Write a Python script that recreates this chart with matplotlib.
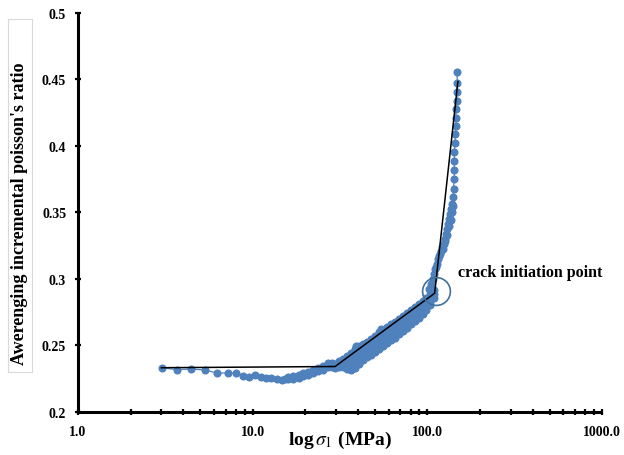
import matplotlib
matplotlib.use("Agg")
import matplotlib.pyplot as plt
from matplotlib.patches import Rectangle
from matplotlib.ticker import FixedLocator, NullFormatter

# --- data (sigma_1 in MPa, averaged incremental poisson's ratio) ---
early_x = [3.01, 3.69, 4.44, 5.31, 6.24, 7.18, 7.97, 8.85, 9.58, 10.36, 11.15, 11.9, 12.8, 13.7, 14.7, 15.3]
early_y = [0.2333, 0.2318, 0.2323, 0.2316, 0.2293, 0.2293, 0.2291, 0.2271, 0.2263, 0.2280, 0.2266, 0.2258,
           0.2253, 0.2248, 0.2243, 0.2248]

trans_x = [16.0, 16.0, 17.1, 17.1, 18.3, 18.3, 19.5, 19.5, 20.8, 20.8, 22.2, 22.2, 23.7, 23.7, 25.3, 25.3,
           27.0, 27.0, 28.3, 28.3]
trans_y = [0.2262, 0.2245, 0.2250, 0.2268, 0.2278, 0.2258, 0.2268, 0.2290, 0.2302, 0.2280, 0.2292, 0.2315,
           0.2328, 0.2305, 0.2318, 0.2345, 0.2370, 0.2335, 0.2340, 0.2372]

band_x = [29.6, 29.6, 29.6,
          31.2, 31.2, 31.2,
          32.9, 32.9, 32.9,
          34.7, 34.7, 34.7, 34.7,
          36.5, 36.5, 36.5, 36.5,
          38.5, 38.5, 38.5, 38.5, 39.0,
          40.5, 40.5, 40.5, 40.5,
          42.7, 42.7, 42.7, 42.7,
          45.0, 45.0, 45.0, 45.0,
          47.5, 47.5, 47.5, 47.5,
          50.0, 50.0, 50.0, 50.0,
          52.7, 52.7, 52.7, 52.7, 54.1,
          55.5, 55.5, 55.5, 55.5,
          58.5, 58.5, 58.5, 58.5,
          61.6, 61.6, 61.6, 61.6,
          64.9, 64.9, 64.9, 64.9,
          68.4, 68.4, 68.4, 68.4,
          72.1, 72.1, 72.1, 72.1,
          76.0, 76.0, 76.0, 76.0,
          80.1, 80.1, 80.1, 80.1,
          84.4, 84.4, 84.4, 84.4,
          88.9, 88.9, 88.9, 88.9,
          93.7, 93.7, 93.7, 93.7,
          98.7, 98.7, 98.7, 98.7,
          104.0, 104.0, 104.0, 104.0,
          109.6, 109.6, 109.6]
band_y = [0.2360, 0.2345, 0.2330,
          0.2335, 0.2355, 0.2380,
          0.2395, 0.2365, 0.2335,
          0.2320, 0.2345, 0.2380, 0.2420,
          0.2440, 0.2400, 0.2355, 0.2315,
          0.2330, 0.2380, 0.2425, 0.2470, 0.2499,
          0.2495, 0.2450, 0.2405, 0.2360,
          0.2390, 0.2430, 0.2470, 0.2510,
          0.2525, 0.2490, 0.2450, 0.2410,
          0.2430, 0.2470, 0.2510, 0.2550,
          0.2570, 0.2530, 0.2490, 0.2450,
          0.2470, 0.2510, 0.2555, 0.2600, 0.2624,
          0.2620, 0.2580, 0.2535, 0.2495,
          0.2520, 0.2560, 0.2600, 0.2640,
          0.2660, 0.2620, 0.2580, 0.2540,
          0.2560, 0.2600, 0.2640, 0.2680,
          0.2700, 0.2660, 0.2620, 0.2585,
          0.2610, 0.2640, 0.2680, 0.2720,
          0.2745, 0.2705, 0.2665, 0.2635,
          0.2660, 0.2690, 0.2725, 0.2765,
          0.2790, 0.2750, 0.2715, 0.2685,
          0.2710, 0.2740, 0.2775, 0.2810,
          0.2835, 0.2800, 0.2765, 0.2740,
          0.2770, 0.2795, 0.2830, 0.2860,
          0.2885, 0.2860, 0.2830, 0.2805,
          0.2860, 0.2890, 0.2920]

steep_x = [102.7, 105.4, 108.2, 109.6, 111.0, 112.5, 113.9, 115.4, 117.0, 118.5, 120.1, 122.0, 121.7,
           124.9, 126.0, 126.5, 128.2, 130.0, 129.9, 131.6, 133.0, 133.3, 135.1, 136.0, 136.9, 138.0,
           138.7, 140.0, 140.5, 141.0, 142.3, 142.3, 142.8, 142.3, 144.2, 144.2, 146.1, 145.0,
           146.1, 148.0, 146.8, 148.0, 148.0]
steep_y = [0.2925, 0.2963, 0.3000, 0.3038, 0.3075, 0.3090, 0.3113, 0.3150, 0.3170, 0.3188, 0.3211, 0.3225,
           0.3241, 0.3263, 0.3285, 0.3301, 0.3338, 0.3330, 0.3376, 0.3414, 0.3395, 0.3451, 0.3489, 0.3440,
           0.3526, 0.3500, 0.3564, 0.3550, 0.3617, 0.3680, 0.3752, 0.3820, 0.3890, 0.3955,
           0.4025, 0.4090, 0.4150, 0.4210, 0.4275, 0.4340, 0.4405, 0.4470, 0.4556]

# piecewise trend line drawn over the data
trend_x = [3.0, 29.6, 110.0, 149.4]
trend_y = [0.2333, 0.2342, 0.2893, 0.4485]

crack_x = 111.5
crack_y = 0.291

x_ticks = [1, 10, 100, 1000]
x_tick_labels = ["1.0", "10.0", "100.0", "1000.0"]
y_ticks = [0.2, 0.25, 0.3, 0.35, 0.4, 0.45, 0.5]
y_tick_labels = ["0.2", "0.25", "0.3", "0.35", "0.4", "0.45", "0.5"]

plt.rcParams["font.family"] = ["Liberation Serif", "DejaVu Serif"]
plt.rcParams["mathtext.fontset"] = "stix"

BLUE = "#4F81BD"

fig = plt.figure(figsize=(6.24, 4.56), dpi=100)
ax = fig.add_axes([0.125, 0.0943, 0.840, 0.8750])

all_x = early_x + trans_x + band_x + steep_x
all_y = early_y + trans_y + band_y + steep_y
ax.plot(all_x, all_y, "-o", color=BLUE, lw=0.9, ms=4.8, mec=BLUE, mfc=BLUE, zorder=2)

ax.plot(trend_x, trend_y, color="black", lw=1.1, zorder=3)
ax.plot([crack_x], [crack_y], "o", ms=20, mfc="none", mec="#41719C", mew=1.2, zorder=4)
ax.text(149, 0.305, "crack initiation point", fontsize=11.5, fontweight="bold", va="center", ha="left")

ax.set_xscale("log")
ax.set_xlim(1, 1000)
ax.set_ylim(0.2, 0.5)

ax.xaxis.set_major_locator(FixedLocator(x_ticks))
ax.set_xticklabels(x_tick_labels)
minor = [m * d for d in [1, 10, 100] for m in range(2, 10)]
ax.xaxis.set_minor_locator(FixedLocator(minor))
ax.xaxis.set_minor_formatter(NullFormatter())
ax.set_yticks(y_ticks)
ax.set_yticklabels(y_tick_labels)

for side in ["top", "right"]:
    ax.spines[side].set_visible(False)
for side in ["left", "bottom"]:
    ax.spines[side].set_linewidth(2.2)
    ax.spines[side].set_capstyle("butt")

ax.tick_params(which="both", direction="inout", length=5, width=1.6, color="black")
ax.tick_params(axis="x", which="both", pad=7)
ax.tick_params(axis="y", pad=6)
for lab in ax.get_xticklabels() + ax.get_yticklabels():
    lab.set_fontweight("bold")
    lab.set_fontsize(10)

ax.set_xlabel(r"log$\,\sigma_1$ (MPa)", fontsize=14, fontweight="bold", va="center")
ax.xaxis.set_label_coords(0.5, -0.068)

fig.text(20 / 624, 1 - 213.5 / 456, "Awerenging incremental poisson's ratio", rotation=90,
         fontsize=13, fontweight="bold", ha="center", va="center")
fig.patches.append(Rectangle((8 / 624, 1 - 373 / 456), 24 / 624, 353 / 456, transform=fig.transFigure,
                             fill=False, edgecolor="#D9D9D9", lw=0.8))

fig.savefig("out.png", dpi=100)
